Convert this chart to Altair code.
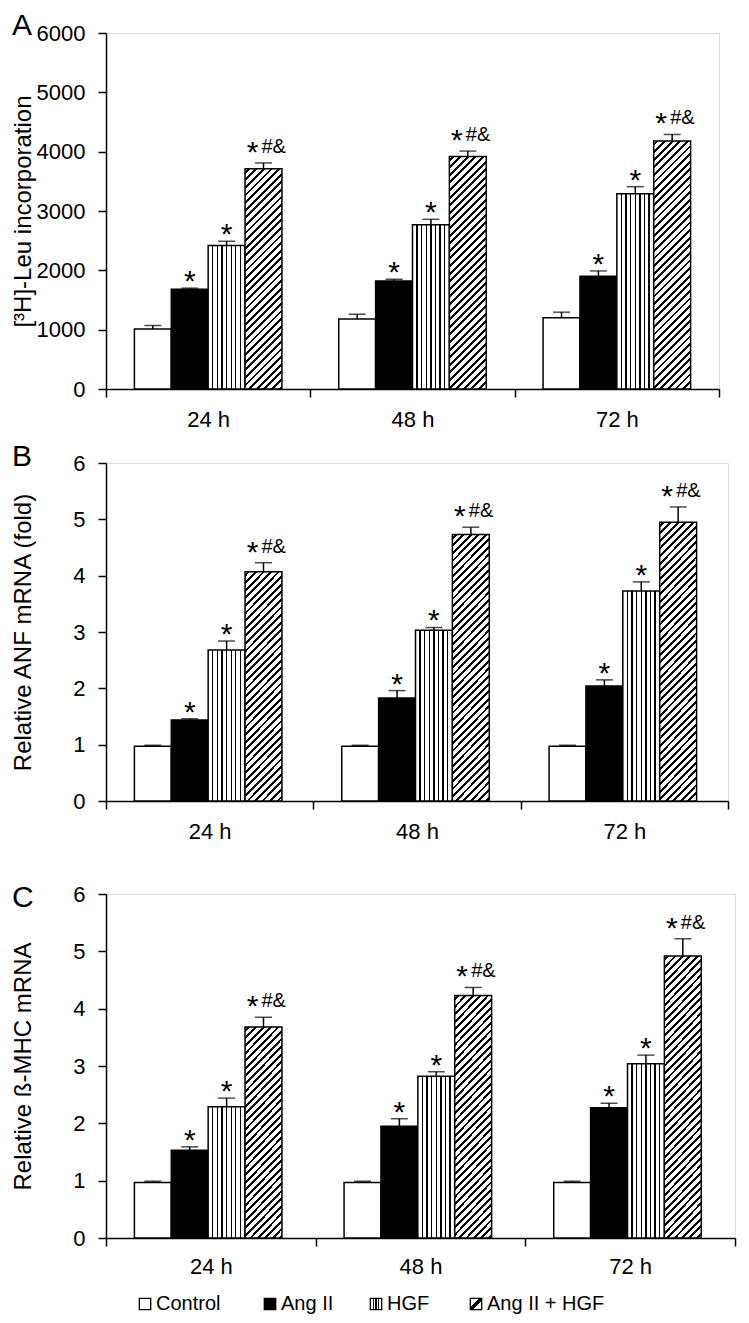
import altair as alt
import pandas as pd

# ---------------- data ----------------
times = ["24 h", "48 h", "72 h"]
groups = ["Control", "Ang II", "HGF", "Ang II + HGF"]

# Panel A: [3H]-Leu incorporation
a_control = [1010, 1180, 1200]
a_angii = [1680, 1820, 1900]
a_hgf = [2420, 2770, 3290]
a_combo = [3710, 3920, 4180]
a_control_sem = [60, 80, 95]
a_angii_sem = [20, 30, 90]
a_hgf_sem = [70, 90, 120]
a_combo_sem = [100, 90, 110]

# Panel B: relative ANF mRNA (fold)
b_control = [0.97, 0.97, 0.97]
b_angii = [1.44, 1.83, 2.04]
b_hgf = [2.68, 3.03, 3.73]
b_combo = [4.07, 4.73, 4.95]
b_control_sem = [0.02, 0.02, 0.02]
b_angii_sem = [0.02, 0.13, 0.11]
b_hgf_sem = [0.16, 0.05, 0.16]
b_combo_sem = [0.16, 0.13, 0.27]

# Panel C: relative beta-MHC mRNA
c_control = [0.97, 0.97, 0.97]
c_angii = [1.53, 1.95, 2.27]
c_hgf = [2.29, 2.82, 3.04]
c_combo = [3.68, 4.23, 4.92]
c_control_sem = [0.02, 0.02, 0.02]
c_angii_sem = [0.06, 0.13, 0.08]
c_hgf_sem = [0.15, 0.08, 0.15]
c_combo_sem = [0.17, 0.14, 0.30]

sig_star = ["", "*", "*", "*"]
sig_extra = ["", "", "", "#&"]

a_ticks = [0, 1000, 2000, 3000, 4000, 5000, 6000]
bc_ticks = [0, 1, 2, 3, 4, 5, 6]

FONT = "Liberation Sans"
PAD_OUTER = 0.77


def build_df(means, sems):
    rows = []
    for gi, g in enumerate(groups):
        for ti, t in enumerate(times):
            m = means[gi][ti]
            rows.append({"time": t, "group": g, "mean": m, "top": m + sems[gi][ti],
                         "star": sig_star[gi], "extra": sig_extra[gi]})
    return pd.DataFrame(rows)


def stop(c, o):
    return alt.GradientStop(color=c, offset=float(o))


def vstripes(n=7, half=0.018):
    stops = [stop("white", 0)]
    for i in range(1, n + 1):
        c = i / (n + 1)
        stops += [stop("white", c - half), stop("black", c - half),
                  stop("black", c + half), stop("white", c + half)]
    stops.append(stop("white", 1))
    return alt.LinearGradient(gradient="linear", stops=stops, x1=0, y1=0, x2=1, y2=0)


def diag(W, H, period=7.6, black=2.9):
    r = W / H
    k = (r + 1) / (r * r + 1)
    L = W + H
    stops = [stop("white", 0)]
    pos = period / 2
    while pos < L:
        a = max(0.0, (pos - black / 2) / L)
        b = min(1.0, (pos + black / 2) / L)
        stops += [stop("white", a), stop("black", a), stop("black", b), stop("white", b)]
        pos += period
    stops.append(stop("white", 1))
    return alt.LinearGradient(gradient="linear", stops=stops, x1=0, y1=0, x2=k * r, y2=k)


def panel(df, letter, letter_y, ytitle, ymax, ticks, width, height, xlabpad):
    xenc = alt.X("time:N", scale=alt.Scale(domain=times, paddingInner=0, paddingOuter=0),
                 axis=alt.Axis(title=None, labelAngle=0, tickBand="extent", tickSize=8,
                               labelPadding=xlabpad, labelFontSize=22))
    xoff = alt.XOffset("group:N", scale=alt.Scale(domain=groups, paddingInner=0,
                                                  paddingOuter=PAD_OUTER))
    yenc = alt.Y("mean:Q", scale=alt.Scale(domain=[0, ymax], nice=False, zero=True),
                 axis=alt.Axis(values=ticks, format="d", title=ytitle, tickSize=8,
                               labelPadding=13, labelFontSize=22, titleFontSize=24,
                               titleFontWeight="normal", titleX=-83, titleY=height / 2,
                               titleAngle=-90, titleBaseline="middle", titleAlign="center"))
    base = alt.Chart(df).encode(x=xenc, xOffset=xoff, y=yenc)

    def only(g):
        return alt.datum.group == g

    layers = [
        base.mark_bar(fill="white", stroke="black", strokeWidth=1.5).transform_filter(only("Control")),
        base.mark_bar(fill="black", stroke="black", strokeWidth=1.5).transform_filter(only("Ang II")),
        base.mark_bar(fill=vstripes(), stroke="black", strokeWidth=1.5).transform_filter(only("HGF")),
    ]
    bw = (width / len(times)) / (len(groups) + 2 * PAD_OUTER)
    combo = df[df.group == "Ang II + HGF"]
    for _, row in combo.iterrows():
        H = row["mean"] / ymax * height
        layers.append(
            base.mark_bar(fill=diag(bw, H), stroke="black", strokeWidth=1.5)
            .transform_filter((alt.datum.group == "Ang II + HGF") & (alt.datum.time == row["time"]))
        )
    layers += [
        base.mark_rule(color="black", strokeWidth=1.5).encode(y2="top:Q"),
        base.mark_tick(orient="horizontal", size=17, thickness=1.5, color="black").encode(y="top:Q"),
        base.mark_text(fontSize=30, font=FONT, baseline="alphabetic", dy=3, color="black")
        .encode(y="top:Q", text="star:N").transform_filter(
            (alt.datum.group == "Ang II") | (alt.datum.group == "HGF")),
        base.mark_text(fontSize=30, font=FONT, baseline="alphabetic", dy=-1, dx=-11, color="black")
        .encode(y="top:Q", text="star:N").transform_filter(only("Ang II + HGF")),
        base.mark_text(fontSize=20, font=FONT, baseline="alphabetic", dy=-10, dx=-2,
                       align="left", color="black")
        .encode(y="top:Q", text="extra:N").transform_filter(only("Ang II + HGF")),
        alt.Chart(pd.DataFrame({"letter": [letter]})).mark_text(
            fontSize=30, font=FONT, align="left", baseline="top", color="black")
        .encode(x=alt.value(-94), y=alt.value(letter_y), text="letter:N"),
    ]
    return alt.layer(*layers).properties(width=width, height=height)


dfA = build_df([a_control, a_angii, a_hgf, a_combo],
               [a_control_sem, a_angii_sem, a_hgf_sem, a_combo_sem])
dfB = build_df([b_control, b_angii, b_hgf, b_combo],
               [b_control_sem, b_angii_sem, b_hgf_sem, b_combo_sem])
dfC = build_df([c_control, c_angii, c_hgf, c_combo],
               [c_control_sem, c_angii_sem, c_hgf_sem, c_combo_sem])

pA = panel(dfA, "A", -22, "[³H]-Leu incorporation", 6000, a_ticks, 613, 356, 12)
pB = panel(dfB, "B", -21, "Relative ANF mRNA (fold)", 6, bc_ticks, 622, 338, 12)
pC = panel(dfC, "C", -11, "Relative ß-MHC mRNA", 6, bc_ticks, 629, 344, 10)

# ---------------- legend ----------------
LEG_W = 613
legend_box = [39, 164, 270, 370]   # layout of the legend entries (pixels)
leg_df = pd.DataFrame({"group": groups, "lx": legend_box})
leg_df["tx"] = leg_df["lx"] + 11

lscale = alt.Scale(domain=[0, LEG_W], nice=False, zero=True)
leg_base = alt.Chart(leg_df).encode(x=alt.X("lx:Q", scale=lscale, axis=None), y=alt.value(14))

legend_fill = {
    "Control": "white",
    "Ang II": "black",
    "HGF": alt.LinearGradient(
        gradient="linear", x1=0, y1=0, x2=1, y2=0,
        stops=[stop("white", 0), stop("white", 0.22), stop("black", 0.22), stop("black", 0.34),
               stop("white", 0.34), stop("white", 0.44), stop("black", 0.44), stop("black", 0.56),
               stop("white", 0.56), stop("white", 0.66), stop("black", 0.66), stop("black", 0.78),
               stop("white", 0.78), stop("white", 1)]),
    "Ang II + HGF": alt.LinearGradient(
        gradient="linear", x1=0, y1=0, x2=1, y2=1,
        stops=[stop("white", 0), stop("white", 0.4), stop("black", 0.4), stop("black", 0.6),
               stop("white", 0.6), stop("white", 1)]),
}

leg_layers = []
for g in groups:
    leg_layers.append(
        leg_base.mark_square(size=130, fill=legend_fill[g], stroke="black", strokeWidth=1.3,
                             opacity=1, fillOpacity=1)
        .transform_filter(alt.datum.group == g)
    )
leg_layers.append(
    leg_base.mark_text(align="left", baseline="middle", fontSize=20, font=FONT, color="black")
    .encode(x=alt.X("tx:Q", scale=lscale, axis=None), text="group:N")
)
legend = alt.layer(*leg_layers).properties(
    width=LEG_W, height=26, view=alt.ViewConfig(stroke="transparent", strokeWidth=0))

chart = alt.vconcat(
    alt.vconcat(pA, pB, spacing=10),
    alt.vconcat(pC, legend, spacing=12),
    spacing=39,
).properties(padding={"left": 2, "top": 2, "right": 0, "bottom": 0}).configure_view(
    stroke="transparent", strokeWidth=0
).configure(font=FONT).configure_axis(
    labelFont=FONT, titleFont=FONT, labelColor="black", titleColor="black",
    domainColor="black", domainWidth=1.5, tickColor="black", tickWidth=1.5, grid=False,
).configure_text(font=FONT)

chart.save("out.html", embed_options={"renderer": "svg", "actions": False})
